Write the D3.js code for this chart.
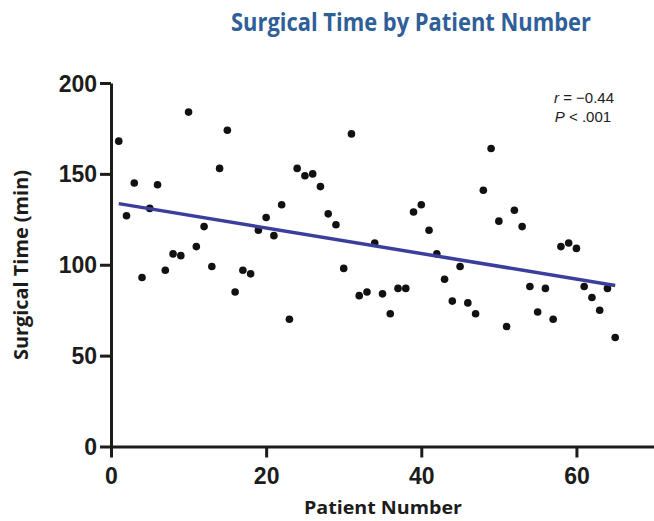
<!DOCTYPE html>
<html>
<head>
<meta charset="utf-8">
<script src="https://cdn.jsdelivr.net/npm/d3@7"></script>
<style>
  html, body { margin: 0; padding: 0; background: #ffffff; }
  svg { display: block; }
</style>
</head>
<body>
<svg id="chart" width="654" height="521"></svg>
<script>
// Patient number (x) and surgical time in minutes (y)
const patients = [
  1, 2, 3, 4, 5, 6, 7, 8, 9, 10,
  11, 12, 13, 14, 15, 16, 17, 18, 19, 20,
  21, 22, 23, 24, 25, 26, 27, 28, 29, 30,
  31, 32, 33, 34, 35, 36, 37, 38, 39, 40,
  41, 42, 43, 44, 45, 46, 47, 48, 49, 50,
  51, 52, 53, 54, 55, 56, 57, 58, 59, 60,
  61, 62, 63, 64, 65
];
const surgicalTimes = [
  168, 127, 145, 93, 131, 144, 97, 106, 105, 184,
  110, 121, 99, 153, 174, 85, 97, 95, 119, 126,
  116, 133, 70, 153, 149, 150, 143, 128, 122, 98,
  172, 83, 85, 112, 84, 73, 87, 87, 129, 133,
  119, 106, 92, 80, 99, 79, 73, 141, 164, 124,
  66, 130, 121, 88, 74, 87, 70, 110, 112, 109,
  88, 82, 75, 87, 60
];
const xTicks = [0, 20, 40, 60];
const yTicks = [0, 50, 100, 150, 200];
const statLines = ["r = \u22120.44", "P < .001"];

const svg = d3.select("#chart");

const x = d3.scaleLinear().domain([0, 70]).range([111, 654]);
const y = d3.scaleLinear().domain([0, 200]).range([446.5, 83]);

const ink = "#1c1c1c";

// Title
svg.append("text")
  .attr("x", 411).attr("y", 31)
  .attr("text-anchor", "middle")
  .attr("font-family", "'Open Sans', sans-serif")
  .attr("font-weight", 700)
  .attr("font-size", 25)
  .attr("fill", "#2f5f98")
  .attr("textLength", 360)
  .attr("lengthAdjust", "spacingAndGlyphs")
  .text("Surgical Time by Patient Number");

// Axes
const xAxis = d3.axisBottom(x).tickValues(xTicks).tickSize(11).tickSizeOuter(0).tickPadding(10);
const yAxis = d3.axisLeft(y).tickValues(yTicks).tickSize(11).tickSizeOuter(0).tickPadding(3);

const gx = svg.append("g").attr("transform", `translate(0,${y(0)})`).call(xAxis);
const gy = svg.append("g").attr("transform", `translate(${x(0)},0)`).call(yAxis);

[gx, gy].forEach(g => {
  g.select(".domain").attr("stroke", ink).attr("stroke-width", 3);
  g.selectAll(".tick line").attr("stroke", ink).attr("stroke-width", 3);
  g.selectAll(".tick text")
    .attr("fill", ink)
    .attr("font-family", "'Liberation Sans', Arial, sans-serif")
    .attr("font-weight", 700)
    .attr("font-size", 23);
});
gy.selectAll(".tick text").attr("dy", "0.35em");

// Axis titles
svg.append("text")
  .attr("x", 383).attr("y", 514)
  .attr("text-anchor", "middle")
  .attr("font-family", "'Open Sans', sans-serif")
  .attr("font-weight", 700)
  .attr("font-size", 18)
  .attr("fill", ink)
  .attr("textLength", 158)
  .attr("lengthAdjust", "spacingAndGlyphs")
  .text("Patient Number");

svg.append("text")
  .attr("transform", "translate(28,265) rotate(-90)")
  .attr("text-anchor", "middle")
  .attr("font-family", "'Open Sans', sans-serif")
  .attr("font-weight", 700)
  .attr("font-size", 19)
  .attr("fill", ink)
  .attr("textLength", 190)
  .attr("lengthAdjust", "spacingAndGlyphs")
  .text("Surgical Time (min)");

// Least-squares fit line
const n = patients.length;
const mx = d3.mean(patients), my = d3.mean(surgicalTimes);
let sxy = 0, sxx = 0;
for (let i = 0; i < n; i++) {
  sxy += (patients[i] - mx) * (surgicalTimes[i] - my);
  sxx += (patients[i] - mx) ** 2;
}
const slope = sxy / sxx, intercept = my - slope * mx;
const [x0, x1] = d3.extent(patients);

// Points
svg.append("g").selectAll("circle")
  .data(patients)
  .join("circle")
  .attr("cx", (d) => x(d))
  .attr("cy", (d, i) => y(surgicalTimes[i]))
  .attr("r", 3.8)
  .attr("fill", "#111");

svg.append("line")
  .attr("x1", x(x0)).attr("y1", y(intercept + slope * x0))
  .attr("x2", x(x1)).attr("y2", y(intercept + slope * x1))
  .attr("stroke", "#3a3e9c")
  .attr("stroke-width", 3.5);

// Correlation annotation
const ann = svg.append("g")
  .attr("font-family", "'Liberation Sans', Arial, sans-serif")
  .attr("font-size", 15)
  .attr("fill", ink)
  .attr("text-anchor", "middle");
const t1 = ann.append("text").attr("x", 584).attr("y", 103);
t1.append("tspan").attr("font-style", "italic").text("r");
t1.append("tspan").text(statLines[0].slice(1));
const t2 = ann.append("text").attr("x", 583).attr("y", 122);
t2.append("tspan").attr("font-style", "italic").text("P");
t2.append("tspan").text(statLines[1].slice(1));
</script>
</body>
</html>
